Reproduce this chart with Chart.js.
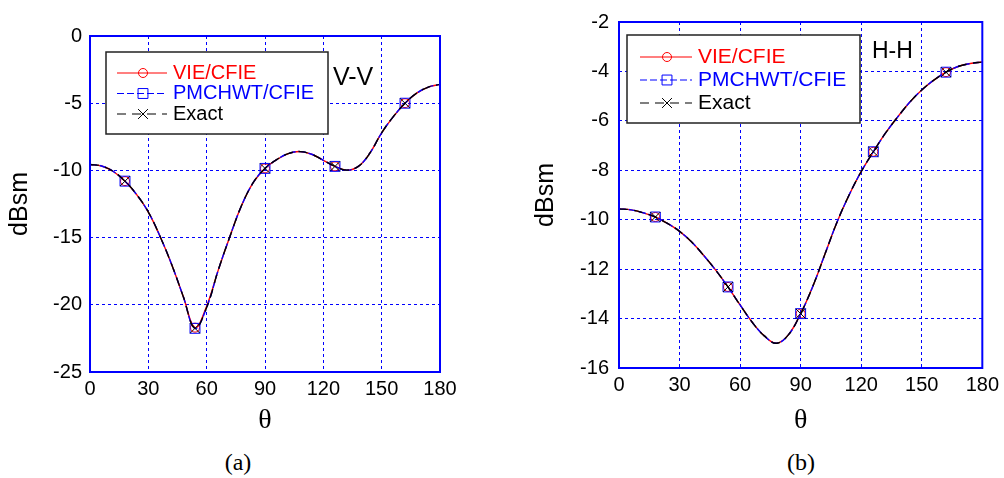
<!DOCTYPE html>
<html>
<head>
<meta charset="utf-8">
<title>Monostatic RCS: V-V and H-H</title>
<script src="https://cdn.jsdelivr.net/npm/chart.js@4.4.0/dist/chart.umd.min.js"></script>
<style>
  body { margin: 0; background: #fff; width: 1004px; height: 478px; position: relative; overflow: hidden; }
  canvas { position: absolute; top: 0; }
  #chartA { left: 0; }
  #chartB { left: 519px; }
  .tag { position: absolute; font-family: "Liberation Sans", Arial, sans-serif; color: #000; line-height: 1; white-space: nowrap; }
  .cap { position: absolute; font-family: "Liberation Serif", "Times New Roman", serif; font-size: 24px; line-height: 1; transform: translate(-50%, -50%); }
</style>
</head>
<body>
  <canvas id="chartA" width="470" height="440"></canvas>
  <canvas id="chartB" width="485" height="440"></canvas>
  <div class="tag" style="left:333px; top:64px; font-size:25px;">V-V</div>
  <div class="tag" style="left:872px; top:39px; font-size:23px;">H-H</div>
  <div class="cap" style="left:238px; top:462px;">(a)</div>
  <div class="cap" style="left:801px; top:462px;">(b)</div>

<script>
// scattering angle in degrees
const theta = [0, 6, 12, 18, 24, 30, 36, 42, 48, 54, 60, 66, 72, 78, 84, 90,
               96, 102, 108, 114, 120, 126, 132, 138, 144, 150, 156, 162, 168, 174, 180];
// angles where the markers sit
const markerTheta = [18, 54, 90, 126, 162];

const seriesNames = ['VIE/CFIE', 'PMCHWT/CFIE', 'Exact'];

// (a) V-V, dBsm
const vieVV   = [-9.56, -9.67, -10.08, -10.8, -11.8, -13.1, -14.9, -17.0, -19.4, -21.7, -20.1, -17.4, -14.9, -12.6, -10.9, -9.85,
                 -9.2, -8.75, -8.6, -8.8, -9.25, -9.7, -9.98, -9.7, -8.7, -7.2, -6.0, -5.0, -4.25, -3.8, -3.6];
const pmVV    = [-9.56, -9.67, -10.08, -10.8, -11.8, -13.1, -14.9, -17.0, -19.4, -21.75, -20.2, -17.4, -14.9, -12.6, -10.9, -9.85,
                 -9.2, -8.75, -8.6, -8.8, -9.25, -9.7, -9.98, -9.7, -8.7, -7.2, -6.0, -5.0, -4.25, -3.8, -3.6];
const exactVV = [-9.56, -9.67, -10.08, -10.8, -11.8, -13.1, -14.9, -17.0, -19.4, -21.75, -20.2, -17.4, -14.9, -12.6, -10.9, -9.85,
                 -9.2, -8.75, -8.6, -8.8, -9.25, -9.7, -9.98, -9.7, -8.7, -7.2, -6.0, -5.0, -4.25, -3.8, -3.6];

// (b) H-H, dBsm
const vieHH   = [-9.56, -9.6, -9.72, -9.89, -10.15, -10.47, -10.9, -11.45, -12.05, -12.72, -13.45, -14.15, -14.7, -15.0, -14.65, -13.8,
                 -12.7, -11.4, -10.1, -9.0, -8.05, -7.25, -6.5, -5.85, -5.25, -4.75, -4.35, -4.03, -3.8, -3.68, -3.62];
const pmHH    = [-9.56, -9.6, -9.72, -9.89, -10.15, -10.47, -10.9, -11.45, -12.05, -12.72, -13.45, -14.15, -14.7, -15.0, -14.65, -13.8,
                 -12.7, -11.4, -10.1, -9.0, -8.05, -7.25, -6.5, -5.85, -5.25, -4.75, -4.35, -4.03, -3.8, -3.68, -3.62];
const exactHH = [-9.56, -9.6, -9.72, -9.89, -10.15, -10.47, -10.9, -11.45, -12.05, -12.72, -13.45, -14.15, -14.7, -15.0, -14.65, -13.8,
                 -12.7, -11.4, -10.1, -9.0, -8.05, -7.25, -6.5, -5.85, -5.25, -4.75, -4.35, -4.03, -3.8, -3.68, -3.62];

const styles = [
  { color: '#ff0000', dash: [],     pointStyle: 'circle',   radius: 4.5, order: 3 },
  { color: '#0000ff', dash: [7, 3], pointStyle: 'rect',     radius: 7,   order: 2 },
  { color: '#000000', dash: [9, 6], pointStyle: 'crossRot', radius: 7,   order: 1 }
];

function drawMarker(c, style, x, y, r) {
  c.beginPath();
  if (style === 'circle') {
    c.arc(x, y, r, 0, Math.PI * 2);
  } else if (style === 'rect') {
    const s = r * Math.SQRT1_2;
    c.rect(x - s, y - s, 2 * s, 2 * s);
  } else {
    const s = r * Math.SQRT1_2;
    c.moveTo(x - s, y - s); c.lineTo(x + s, y + s);
    c.moveTo(x - s, y + s); c.lineTo(x + s, y - s);
  }
  c.stroke();
}

// legend box drawn inside the plot, matlab style
const boxLegend = {
  id: 'boxLegend',
  afterDraw(chart, args, o) {
    const c = chart.ctx;
    c.save();
    c.fillStyle = '#fff';
    c.fillRect(o.x, o.y, o.w, o.h);
    c.strokeStyle = '#222';
    c.lineWidth = 1.5;
    c.strokeRect(o.x, o.y, o.w, o.h);
    chart.data.datasets.forEach((ds, i) => {
      const y = o.rows[i];
      c.strokeStyle = ds.borderColor;
      c.lineWidth = 1.2;
      c.setLineDash(ds.borderDash);
      c.beginPath();
      c.moveTo(o.lineX0, y);
      c.lineTo(o.lineX1, y);
      c.stroke();
      c.setLineDash([]);
      c.lineWidth = 1;
      drawMarker(c, ds.pointStyle, o.markX, y, ds.legendRadius);
      c.fillStyle = ds.borderColor;
      c.font = o.font;
      c.textBaseline = 'middle';
      c.fillText(ds.label, o.textX, y);
    });
    c.restore();
  }
};

// solid blue frame round the plot area
const frame = {
  id: 'frame',
  afterDatasetsDraw(chart) {
    const a = chart.chartArea, c = chart.ctx;
    c.save();
    c.strokeStyle = '#0000ff';
    c.lineWidth = 2;
    c.strokeRect(a.left, a.top, a.right - a.left, a.bottom - a.top);
    c.restore();
  }
};

function makeChart(id, series, yMin, yMax, yStep, pad, yWidth, xHeight, yTickPad, legend) {
  const datasets = series.map((vals, i) => ({
    label: seriesNames[i],
    data: theta.map((t, k) => ({ x: t, y: vals[k] })),
    borderColor: styles[i].color,
    borderDash: styles[i].dash,
    borderWidth: 1.4,
    order: styles[i].order,
    pointStyle: styles[i].pointStyle,
    legendRadius: styles[i].radius,
    pointRadius: ctx => markerTheta.includes(theta[ctx.dataIndex]) ? styles[i].radius : 0,
    pointBorderColor: styles[i].color,
    pointBackgroundColor: 'rgba(0,0,0,0)',
    pointBorderWidth: 1,
    tension: 0.4,
    fill: false
  }));

  return new Chart(document.getElementById(id), {
    type: 'line',
    data: { datasets: datasets },
    plugins: [frame, boxLegend],
    options: {
      responsive: false,
      animation: false,
      layout: { padding: pad },
      plugins: { legend: { display: false }, tooltip: { enabled: false }, boxLegend: legend },
      scales: {
        x: {
          type: 'linear', min: 0, max: 180,
          afterFit: s => { s.height = xHeight; },
          ticks: { stepSize: 30, padding: 5, color: '#000', font: { family: 'Liberation Sans', size: 20 } },
          grid: { color: '#0000ff', lineWidth: 1, drawTicks: false },
          border: { display: false, dash: [3, 3] },
          title: { display: true, text: 'θ', color: '#000', padding: { top: 0, bottom: 3 },
                   font: { family: 'Liberation Serif', size: 28 } }
        },
        y: {
          min: yMin, max: yMax,
          afterFit: s => { s.width = yWidth; },
          ticks: { stepSize: yStep, padding: yTickPad, color: '#000', font: { family: 'Liberation Sans', size: 20 } },
          grid: { color: '#0000ff', lineWidth: 1, drawTicks: false },
          border: { display: false, dash: [3, 3] },
          title: { display: true, text: 'dBsm', color: '#000', padding: 0,
                   font: { family: 'Liberation Sans', size: 25 } }
        }
      }
    }
  });
}

makeChart('chartA', [vieVV, pmVV, exactVV], -25, 0, 5,
  { left: 5, top: 36, right: 30, bottom: 0 }, 85, 68, 8,
  { x: 106, y: 52, w: 222, h: 82, rows: [73, 93.5, 114], lineX0: 117, lineX1: 167, markX: 143, textX: 173,
    font: '20px "Liberation Sans"' });

makeChart('chartB', [vieHH, pmHH, exactHH], -16, -2, 2,
  { left: 12, top: 18, right: 21, bottom: 0 }, 88, 72, 10,
  { x: 108, y: 35, w: 233, h: 88, rows: [57, 80, 103], lineX0: 121, lineX1: 173, markX: 148, textX: 179,
    font: '21px "Liberation Sans"' });
</script>
</body>
</html>
